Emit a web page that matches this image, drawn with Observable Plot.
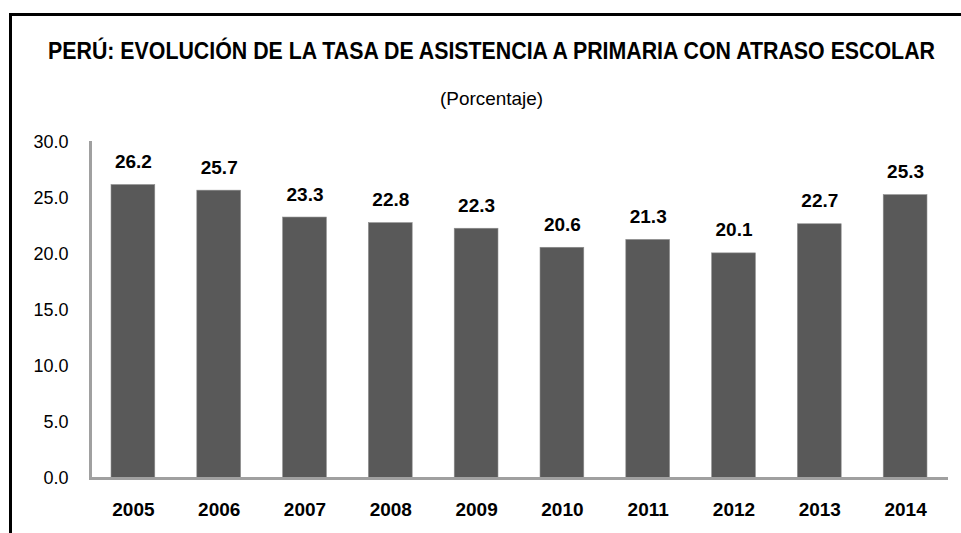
<!DOCTYPE html>
<html>
<head>
<meta charset="utf-8">
<script src="https://cdn.jsdelivr.net/npm/d3@7"></script>
<script src="https://cdn.jsdelivr.net/npm/@observablehq/plot@0.6"></script>
<style>
  html, body { margin: 0; padding: 0; background: #fff; }
  #wrap { position: relative; width: 961px; height: 533px; overflow: hidden; font-family: "Liberation Sans", Arial, sans-serif; }
  #border { position: absolute; left: 9px; top: 13px; width: 1000px; height: 600px; border-left: 3px solid #000; border-top: 3px solid #000; }
  .line { position: absolute; white-space: nowrap; color: #000; transform-origin: 0 0; }
  #title { top: 38px; font-weight: bold; font-size: 23.5px; }
  #subtitle { top: 88px; font-size: 19px; }
  #chart { position: absolute; left: 0; top: 120px; }
</style>
</head>
<body>
<div id="wrap">
  <div id="border"></div>
  <span class="line" id="title">PERÚ: EVOLUCIÓN DE LA TASA DE ASISTENCIA A PRIMARIA CON ATRASO ESCOLAR</span>
  <span class="line" id="subtitle">(Porcentaje)</span>
  <div id="chart"></div>
</div>
<script>
const years = ["2005","2006","2007","2008","2009","2010","2011","2012","2013","2014"];
const values = [26.2, 25.7, 23.3, 22.8, 22.3, 20.6, 21.3, 20.1, 22.7, 25.3];
const yTicks = [0, 5, 10, 15, 20, 25, 30];

const data = years.map((y, i) => ({year: y, value: values[i]}));

function fitLine(id, left, width) {
  const el = document.getElementById(id);
  const w = el.getBoundingClientRect().width;
  el.style.left = left + "px";
  el.style.transform = `scaleX(${width / w})`;
}
fitLine("title", 48, 887);
fitLine("subtitle", 440, 103);

const chart = Plot.plot({
  width: 961,
  height: 413,
  marginTop: 22,
  marginBottom: 55,
  marginLeft: 90,
  marginRight: 13,
  style: {fontFamily: '"Liberation Sans", Arial, sans-serif', color: "#000", background: "transparent", overflow: "visible"},
  x: {domain: years, paddingInner: 0.49, paddingOuter: 0.245, align: 0.5, round: false, label: null},
  y: {domain: [0, 30], label: null},
  marks: [
    Plot.barY(data, {x: "year", y: "value", fill: "#595959", stroke: "#8c8c8c", strokeWidth: 0.6}),
    Plot.text(data, {x: "year", y: "value", text: d => d.value.toFixed(1), lineAnchor: "bottom", dy: -17, fontSize: 19, fontWeight: "bold", fill: "#000"}),
    Plot.frame({anchor: "left", stroke: "#a0a0a0", strokeWidth: 3}),
    Plot.ruleY([0], {stroke: "#a0a0a0", strokeWidth: 3}),
    Plot.axisY({ticks: yTicks, tickFormat: d => d.toFixed(1), tickSize: 0, tickPadding: 22, fontSize: 18, label: null}),
    Plot.axisX({tickSize: 0, tickPadding: 24, fontSize: 19, fontWeight: "bold", label: null})
  ]
});
document.getElementById("chart").appendChild(chart);
</script>
</body>
</html>
